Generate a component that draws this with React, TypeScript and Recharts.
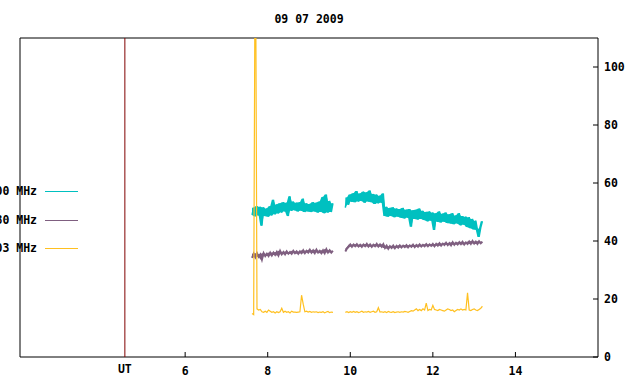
import React from 'react';
import { ComposedChart, Line, Area, XAxis, YAxis, ReferenceLine, ReferenceArea } from 'recharts';

// sampling: one reading every 0.04 h, two recording segments
const SAMPLE_STEP = 0.04;
const SEG_A_START = 7.62;
const SEG_B_START = 9.88;
const GAP_TIME = 9.73;

const xTicks = [6, 8, 10, 12, 14];
const yTicks = [0, 20, 40, 60, 80, 100];
const UT_MARK = 4.54;

const seriesNames = ['3000 MHz', '2980 MHz', '2803 MHz'];
const seriesColors = ['#00c0c0', '#7f5f80', '#ffc020'];
const seriesWidths = [1.5, 2, 1.2];

const cyanA = [
  49.0, 51.5, 48.5, 52.0, 48.8, 51.8, 45.3, 51.6, 48.6, 51.2,
  48.4, 52.0, 48.8, 54.2, 49.2, 52.6, 49.5, 53.0, 49.8, 53.4,
  50.2, 53.2, 48.6, 55.4, 50.4, 53.6, 50.6, 53.2, 50.2, 53.4,
  50.4, 54.6, 50.0, 53.0, 50.2, 52.8, 50.0, 53.4, 50.2, 53.2,
  49.8, 53.6, 50.0, 55.2, 49.6, 56.0, 49.8, 53.8, 50.0, 53.0,
];
const cyanB = [
  51.5, 55.0, 52.5, 56.0, 53.5, 56.5, 53.4, 57.2, 53.6, 56.4,
  53.8, 57.0, 53.2, 56.8, 53.6, 57.4, 53.4, 56.2, 52.8, 56.0,
  53.0, 55.6, 53.2, 56.4, 48.6, 51.8, 48.4, 51.4, 48.6, 51.6,
  48.2, 51.2, 48.4, 51.0, 48.0, 51.4, 47.8, 50.8, 48.0, 51.0,
  44.9, 50.6, 47.6, 50.8, 47.4, 51.2, 47.6, 50.4, 47.2, 50.0,
  46.8, 50.2, 47.0, 49.8, 43.8, 49.6, 46.6, 50.2, 46.4, 49.4,
  46.6, 49.8, 46.2, 49.2, 46.0, 49.6, 45.8, 48.8, 46.0, 49.6,
  45.4, 48.6, 45.6, 48.4, 44.8, 48.2, 44.4, 47.6, 44.0, 47.0,
  43.8, 41.4, 44.6, 46.8,
];

const purpleA = [
  34.2, 35.6, 34.4, 35.8, 34.6, 35.4, 33.6, 35.8, 34.8, 35.6,
  34.8, 36.0, 35.0, 36.0, 35.2, 36.2, 35.0, 36.6, 35.4, 36.2,
  35.4, 36.4, 35.6, 36.2, 35.6, 36.6, 35.8, 36.4, 35.6, 36.4,
  35.8, 36.8, 35.8, 36.6, 36.0, 37.0, 36.0, 36.8, 35.8, 37.0,
  36.0, 36.6, 35.8, 36.8, 35.8, 37.2, 36.0, 36.8, 36.0, 36.6,
];
const purpleB = [
  36.4, 37.4, 38.0, 38.8, 38.0, 38.8, 38.2, 38.9, 38.1, 38.7,
  38.0, 38.8, 38.2, 39.0, 38.1, 38.8, 38.0, 38.7, 38.2, 39.0,
  38.1, 38.8, 38.0, 38.9, 37.6, 38.4, 37.3, 38.2, 37.6, 38.4,
  37.5, 38.3, 37.7, 38.5, 37.8, 38.4, 37.9, 38.6, 37.8, 38.5,
  38.0, 38.7, 37.9, 38.6, 38.0, 38.8, 38.1, 38.7, 38.2, 38.9,
  38.2, 38.8, 38.3, 39.0, 38.2, 39.0, 38.4, 39.2, 38.4, 39.1,
  38.6, 39.4, 38.6, 39.3, 38.5, 39.6, 38.7, 39.4, 38.8, 39.6,
  38.9, 39.7, 38.8, 39.5, 39.0, 39.8, 39.0, 40.0, 39.1, 39.8,
  39.0, 39.9, 39.2, 39.7,
];

const yellowA = [
  15.0, 14.6, 160, 16.6, 16.2, 16.4, 15.6, 15.4, 15.8, 15.4,
  16.2, 15.8, 15.4, 15.6, 15.2, 15.6, 15.3, 15.6, 16.8, 15.4,
  15.8, 15.4, 15.6, 15.2, 15.8, 15.5, 15.5, 15.4, 15.5, 15.6,
  21.3, 18.2, 15.6, 15.8, 15.5, 15.7, 15.4, 15.6, 15.5, 15.6,
  15.3, 15.5, 15.4, 15.6, 15.2, 15.5, 15.7, 15.3, 15.5, 15.4,
];
const yellowB = [
  15.4, 15.6, 15.3, 15.6, 15.4, 15.7, 15.4, 15.6, 15.3, 15.5,
  15.8, 15.4, 15.6, 15.5, 15.7, 15.4, 15.6, 15.8, 15.4, 15.6,
  17.0, 15.5, 15.6, 15.4, 15.6, 15.3, 15.7, 15.5, 15.4, 15.6,
  15.3, 15.5, 15.6, 15.4, 15.6, 15.5, 15.7, 15.6, 15.4, 15.7,
  16.0, 15.8, 16.2, 16.6, 16.0, 16.4, 16.0, 16.6, 16.2, 18.6,
  16.0, 16.4, 16.2, 17.8, 16.4, 16.2, 16.0, 16.4, 16.2, 16.0,
  15.8, 16.2, 16.6, 16.4, 16.0, 16.2, 15.6, 16.0, 16.4, 16.2,
  16.6, 16.2, 16.4, 16.2, 22.1, 16.2, 16.0, 16.4, 16.6, 16.2,
  16.0, 16.4, 16.8, 17.5,
];

const FONT = "'DejaVu Sans Mono', monospace";

type Row = { t: number; v: number | null; band: [number, number] | null };

// rows for one trace; "band" spans each reading and the next one so the
// noisy trace reads as a filled strip, as in the original plot
function segmentRows(vals: number[], start: number): Row[] {
  return vals.map((v, i) => {
    const next = i + 1 < vals.length ? vals[i + 1] : v;
    return {
      t: +(start + i * SAMPLE_STEP).toFixed(2),
      v,
      band: [Math.min(v, next), Math.max(v, next)],
    };
  });
}

function buildSeries(a: number[], b: number[]): Row[] {
  return [
    ...segmentRows(a, SEG_A_START),
    { t: GAP_TIME, v: null, band: null },
    ...segmentRows(b, SEG_B_START),
  ];
}

const series = [
  buildSeries(cyanA, cyanB),
  buildSeries(purpleA, purpleB),
  buildSeries(yellowA, yellowB),
];
const hasBand = [true, true, false];

const tickStyle = { fill: '#000', fontSize: 11.5, fontFamily: FONT, fontWeight: 'bold' };

function LegendBox() {
  return (
    <div style={{ position: 'absolute', left: 0, top: 184, width: 80, height: 80 }}>
      {seriesNames.map((name, i) => (
        <div key={name} style={{ position: 'absolute', top: i * 28.5, left: 0, width: 80, height: 14 }}>
          <span
            style={{
              position: 'absolute',
              right: 80 - 37,
              top: 0,
              whiteSpace: 'nowrap',
              fontFamily: FONT,
              fontWeight: 'bold',
              fontSize: 11.5,
              lineHeight: '14px',
            }}
          >
            {name}
          </span>
          <span
            style={{
              position: 'absolute',
              left: 45,
              top: 7,
              width: 33,
              height: 1,
              background: seriesColors[i],
            }}
          />
        </div>
      ))}
    </div>
  );
}

export default function App() {
  return (
    <div style={{ position: 'absolute', left: 0, top: 0, width: 640, height: 384, background: '#fff', overflow: 'hidden' }}>
      <ComposedChart width={640} height={384} margin={{ top: 8, right: 0, bottom: 0, left: 20 }}>
        <XAxis
          dataKey="t"
          type="number"
          domain={[2, 16]}
          ticks={xTicks}
          height={27}
          axisLine={false}
          tickSize={-5}
          tickMargin={15}
          tickLine={{ stroke: '#000' }}
          tick={tickStyle}
        />
        <XAxis
          xAxisId="top"
          orientation="top"
          type="number"
          domain={[2, 16]}
          ticks={xTicks}
          height={30}
          axisLine={false}
          tickSize={-5}
          tick={false}
          tickLine={{ stroke: '#000' }}
        />
        <YAxis
          orientation="right"
          type="number"
          domain={[0, 110]}
          allowDataOverflow
          ticks={yTicks}
          width={42}
          axisLine={false}
          tickSize={-5}
          tickMargin={11}
          tickLine={{ stroke: '#000' }}
          tick={tickStyle}
        />
        <ReferenceArea x1={2} x2={16} y1={0} y2={110} fill="none" stroke="#000" strokeWidth={1} />
        <ReferenceLine
          x={UT_MARK}
          stroke="#800000"
          strokeWidth={1}
          label={({ viewBox }: any) => (
            <text
              x={viewBox.x}
              y={viewBox.y + viewBox.height + 16}
              textAnchor="middle"
              fontFamily={FONT}
              fontWeight="bold"
              fontSize={11.5}
              fill="#000"
            >
              UT
            </text>
          )}
        />
        {series.map((data, i) =>
          hasBand[i] ? (
            <Area
              key={'band' + i}
              data={data}
              dataKey="band"
              type="linear"
              stroke="none"
              fill={seriesColors[i]}
              fillOpacity={1}
              connectNulls={false}
              dot={false}
              activeDot={false}
              isAnimationActive={false}
            />
          ) : null
        )}
        {series.map((data, i) => (
          <Line
            key={seriesNames[i]}
            data={data}
            dataKey="v"
            name={seriesNames[i]}
            stroke={seriesColors[i]}
            strokeWidth={seriesWidths[i]}
            dot={false}
            connectNulls={false}
            isAnimationActive={false}
          />
        ))}
      </ComposedChart>
      <div
        style={{
          position: 'absolute',
          top: 12,
          left: 20,
          width: 578,
          textAlign: 'center',
          fontFamily: FONT,
          fontWeight: 'bold',
          fontSize: 11.5,
          lineHeight: '14px',
        }}
      >
        09 07 2009
      </div>
      <LegendBox />
    </div>
  );
}
